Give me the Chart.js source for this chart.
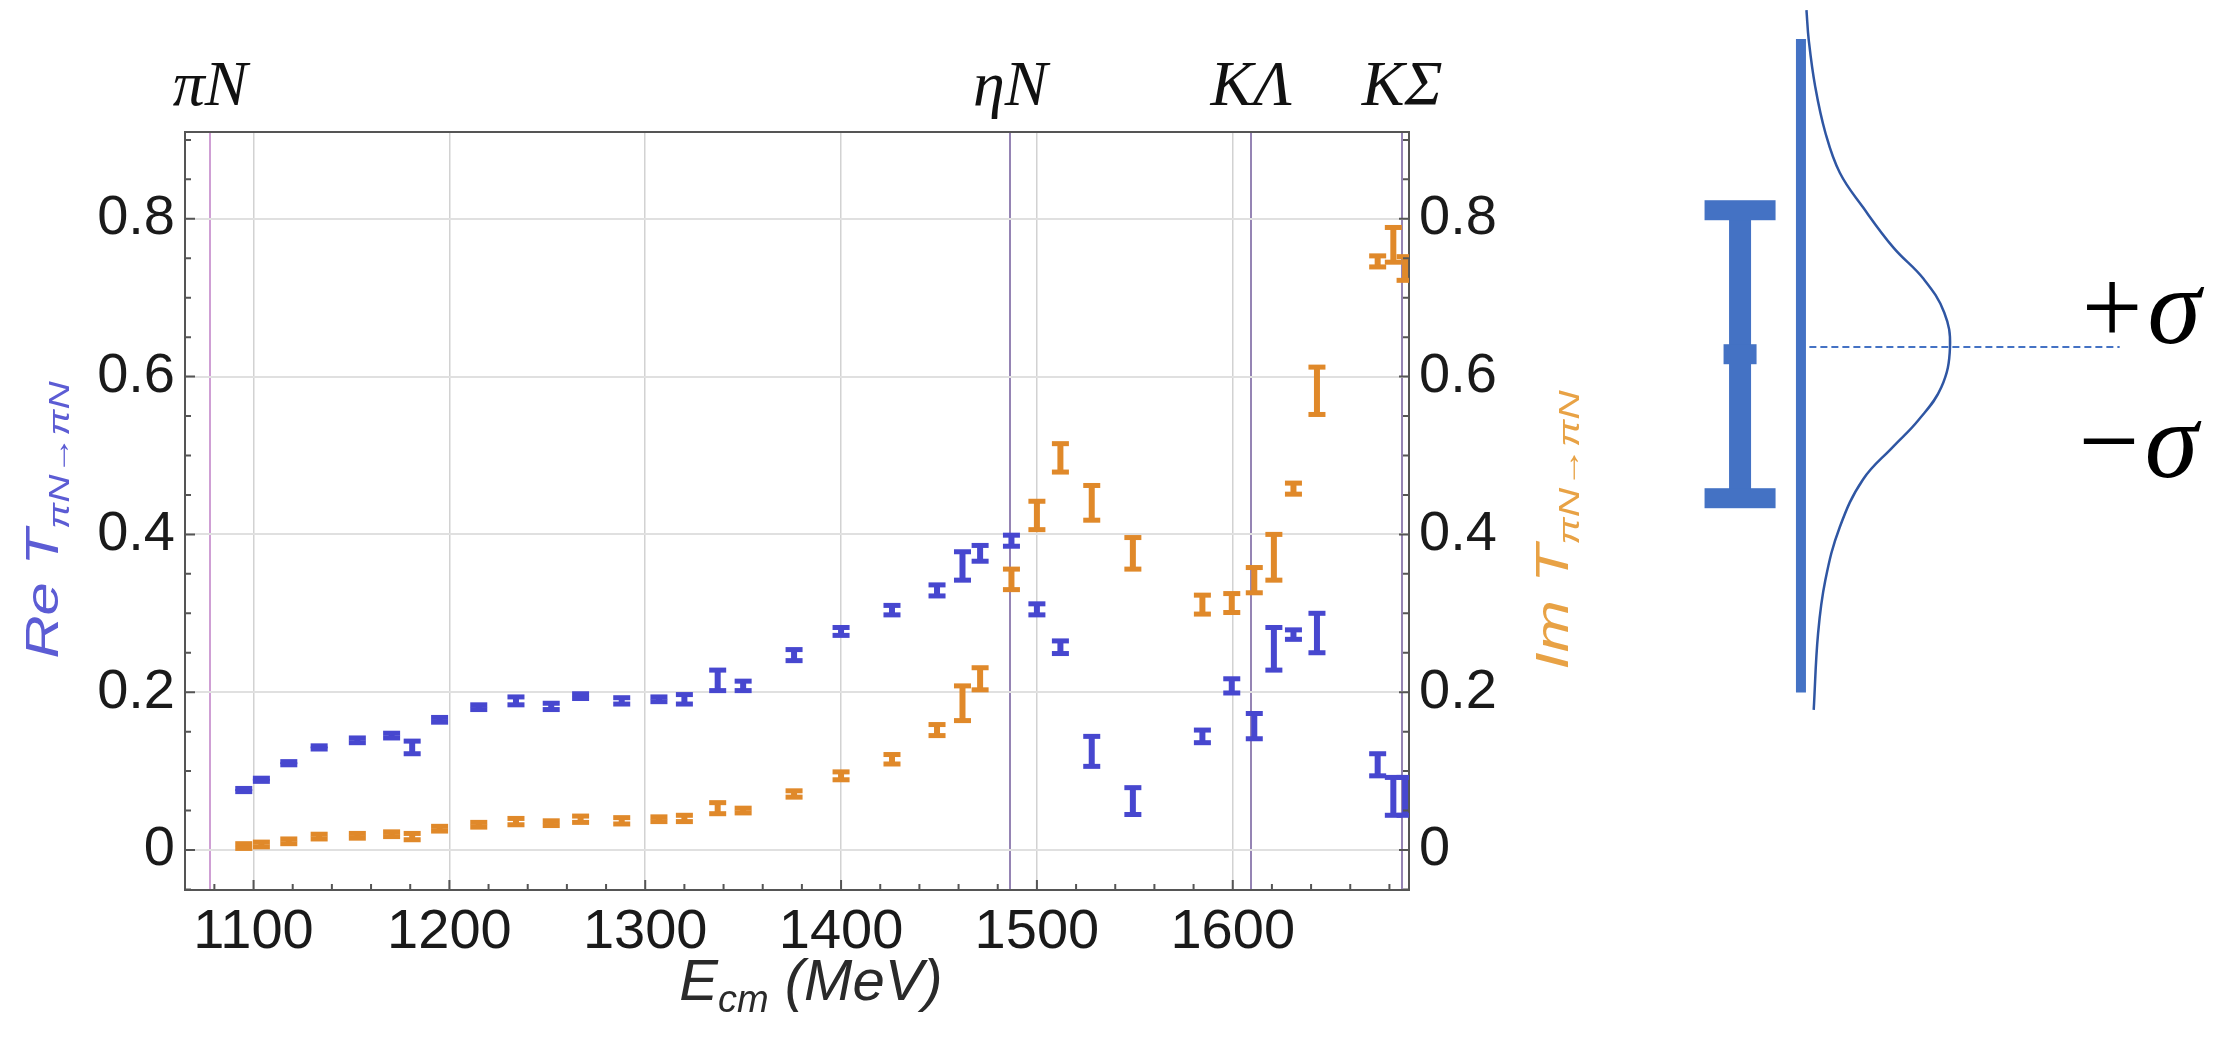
<!DOCTYPE html>
<html>
<head>
<meta charset="utf-8">
<script src="https://cdn.jsdelivr.net/npm/chart.js@4.4.1/dist/chart.umd.min.js"></script>
<style>
  html, body { margin: 0; padding: 0; background: #fff; }
  #wrap { position: relative; width: 2240px; height: 1052px; overflow: hidden; }
  #amp { position: absolute; left: 0; top: 0; }
  #sigma { position: absolute; left: 1620px; top: 0; }
</style>
</head>
<body>
<div id="wrap">
  <canvas id="amp" width="1620" height="1052"></canvas>
  <canvas id="sigma" width="620" height="1052"></canvas>
</div>
<script>
// pi N -> pi N amplitude, centre-of-mass energy in MeV
const energies = [1095, 1104, 1118, 1133.5, 1153, 1170.5, 1181, 1195, 1215, 1234, 1252, 1267, 1288,
  1307, 1320, 1337, 1350, 1376, 1400, 1426, 1449, 1462, 1471, 1487, 1500, 1512, 1528, 1549,
  1584.5, 1599.5, 1611, 1621, 1631, 1643, 1674, 1682, 1688];
const reVals = [0.076, 0.089, 0.110, 0.130, 0.139, 0.145, 0.130, 0.165, 0.181, 0.189, 0.182, 0.195, 0.189,
  0.191, 0.191, 0.215, 0.208, 0.247, 0.277, 0.304, 0.329, 0.360, 0.376, 0.392, 0.305, 0.257, 0.125, 0.062,
  0.144, 0.208, 0.157, 0.255, 0.273, 0.275, 0.108, 0.068, 0.068];
const reErrs = [0.002, 0.002, 0.002, 0.002, 0.003, 0.003, 0.008, 0.003, 0.003, 0.005, 0.004, 0.003, 0.004,
  0.003, 0.006, 0.013, 0.006, 0.007, 0.005, 0.006, 0.007, 0.018, 0.010, 0.007, 0.007, 0.008, 0.019, 0.017,
  0.008, 0.009, 0.016, 0.027, 0.006, 0.025, 0.014, 0.024, 0.024];
const imVals = [0.005, 0.007, 0.011, 0.017, 0.018, 0.020, 0.017, 0.027, 0.032, 0.036, 0.034, 0.039, 0.037,
  0.039, 0.040, 0.053, 0.050, 0.071, 0.094, 0.115, 0.152, 0.186, 0.217, 0.343, 0.424, 0.497, 0.440, 0.376,
  0.311, 0.313, 0.342, 0.371, 0.458, 0.582, 0.746, 0.767, 0.737];
const imErrs = [0.003, 0.003, 0.003, 0.003, 0.003, 0.003, 0.004, 0.003, 0.003, 0.004, 0.003, 0.004, 0.004,
  0.003, 0.004, 0.007, 0.003, 0.004, 0.005, 0.006, 0.007, 0.022, 0.014, 0.013, 0.018, 0.018, 0.022, 0.020,
  0.012, 0.012, 0.016, 0.029, 0.007, 0.030, 0.007, 0.022, 0.015];

const xTicks = [1100, 1200, 1300, 1400, 1500, 1600];
const yTicks = [0, 0.2, 0.4, 0.6, 0.8];
// two-body thresholds
const thresholds = [1077.8, 1486.4, 1609.4, 1686.5];
const thresholdNames = ['πN', 'ηN', 'KΛ', 'KΣ'];

// error-bar sketch: profile height against offset in units of sigma
const profileZ = [2.34, 2.13, 1.81, 1.49, 1.21, 0.97, 0.69, 0.47, 0.24, 0, -0.28, -0.51, -0.69, -0.92, -1.25, -1.62, -1.99, -2.52];
const profileD = [0.01, 0.026, 0.07, 0.14, 0.24, 0.40, 0.61, 0.82, 0.96, 1.0, 0.94, 0.78, 0.61, 0.40, 0.24, 0.14, 0.09, 0.06];
const axisLine = [2.14, -2.40];      // z range of the vertical bar
const meanLine = [0.03, 2.17];       // extent of the dashed mean line
const sketchBar = { z: -0.05, err: 1.0 };
const sigmaLabels = ['+σ', '−σ'];

const BLUE = '#4747cf';
const ORANGE = '#e0892a';
const SKETCH = '#4472c4';

// draws I-shaped error bars for datasets carrying an errorBar style
const errorBars = {
  id: 'errorBars',
  afterDatasetsDraw(chart, args, opts) {
    const ctx = chart.ctx;
    const area = chart.chartArea;
    ctx.save();
    if (opts.clip) {
      ctx.beginPath();
      ctx.rect(area.left, area.top, area.right - area.left, area.bottom - area.top);
      ctx.clip();
    }
    chart.data.datasets.forEach((ds, i) => {
      const eb = ds.errorBar;
      if (!eb) return;
      const meta = chart.getDatasetMeta(i);
      const xs = chart.scales[meta.xAxisID];
      const ys = chart.scales[meta.yAxisID];
      ctx.fillStyle = ds.borderColor;
      ds.data.forEach(p => {
        const x = xs.getPixelForValue(p.x);
        const top = ys.getPixelForValue(p.y + p.err);
        const bot = ys.getPixelForValue(p.y - p.err);
        ctx.fillRect(x - eb.stem / 2, top, eb.stem, bot - top);
        ctx.fillRect(x - eb.cap / 2, top - eb.capH / 2, eb.cap, eb.capH);
        ctx.fillRect(x - eb.cap / 2, bot - eb.capH / 2, eb.cap, eb.capH);
        if (eb.mid) {
          const yc = ys.getPixelForValue(p.y);
          ctx.fillRect(x - eb.mid[0] / 2, yc - eb.mid[1] / 2, eb.mid[0], eb.mid[1]);
        }
      });
    });
    ctx.restore();
  }
};

// inward frame ticks, major and minor
const frameTicks = {
  id: 'frameTicks',
  afterDraw(chart) {
    const { ctx, chartArea: a, scales } = chart;
    ctx.save();
    ctx.strokeStyle = '#555';
    ctx.lineWidth = 2;
    ctx.beginPath();
    for (let k = -1; k <= 18; k++) {
      const v = k * 0.05;
      const y = scales.y.getPixelForValue(v);
      if (y < a.top || y > a.bottom) continue;
      const len = k % 4 === 0 ? 10 : 6;
      ctx.moveTo(a.left, y); ctx.lineTo(a.left + len, y);
      ctx.moveTo(a.right, y); ctx.lineTo(a.right - len, y);
    }
    for (let e = 1080; e <= 1680; e += 20) {
      const x = scales.x.getPixelForValue(e);
      const len = e % 100 === 0 ? 10 : 6;
      ctx.moveTo(x, a.bottom); ctx.lineTo(x, a.bottom - len);
    }
    ctx.stroke();
    ctx.restore();
  }
};

// text made of several runs (main text + subscript), optionally rotated and stretched
function drawRich(ctx, parts, cx, cy, angle, color, stretch) {
  ctx.save();
  ctx.translate(cx, cy);
  ctx.rotate(angle);
  ctx.scale(stretch || 1, 1);
  ctx.fillStyle = color;
  ctx.textBaseline = 'alphabetic';
  let total = 0;
  parts.forEach(p => { ctx.font = p.font; p.w = ctx.measureText(p.text).width; total += p.w; });
  let x = -total / 2;
  parts.forEach(p => { ctx.font = p.font; ctx.fillText(p.text, x, p.dy || 0); x += p.w; });
  ctx.restore();
}

// axis titles with subscripts
const axisTitles = {
  id: 'axisTitles',
  afterDraw(chart) {
    const ctx = chart.ctx;
    const big = 'italic 46px "Liberation Sans"';
    const sub = 'italic 30px "Liberation Sans"';
    drawRich(ctx, [
      { text: 'Re ', font: big }, { text: 'T', font: big }, { text: 'πN→πN', font: sub, dy: 11 }
    ], 58, 520, -Math.PI / 2, '#5c5cd4', 1.3);
    drawRich(ctx, [
      { text: 'Im ', font: big }, { text: 'T', font: big }, { text: 'πN→πN', font: sub, dy: 11 }
    ], 1568, 530, -Math.PI / 2, '#e8a245', 1.36);
    drawRich(ctx, [
      { text: 'E', font: 'italic 58px "Liberation Sans"' },
      { text: 'cm', font: 'italic 38px "Liberation Sans"', dy: 12 },
      { text: ' (MeV)', font: 'italic 58px "Liberation Sans"' }
    ], 811, 1000, 0, '#2a2a2a');
  }
};

const tickFont = { family: 'Liberation Sans', size: 56 };
const yRange = { min: -0.0507, max: 0.910 };
const xRange = { min: 1065, max: 1690 };
const fixSize = (dim, size) => s => { s[dim] = size; };

new Chart(document.getElementById('amp'), {
  type: 'scatter',
  data: {
    datasets: [
      {
        label: 'Re T',
        data: energies.map((e, i) => ({ x: e, y: reVals[i], err: reErrs[i] })),
        borderColor: BLUE, backgroundColor: BLUE, pointRadius: 0,
        xAxisID: 'x', yAxisID: 'y',
        errorBar: { stem: 6, cap: 17, capH: 5 }
      },
      {
        label: 'Im T',
        data: energies.map((e, i) => ({ x: e, y: imVals[i], err: imErrs[i] })),
        borderColor: ORANGE, backgroundColor: ORANGE, pointRadius: 0,
        xAxisID: 'x', yAxisID: 'y2',
        errorBar: { stem: 6, cap: 17, capH: 5 }
      }
    ]
  },
  options: {
    responsive: false,
    animation: false,
    devicePixelRatio: 1,
    layout: { padding: 0 },
    plugins: {
      legend: { display: false },
      tooltip: { enabled: false },
      errorBars: { clip: true }
    },
    scales: {
      x: {
        type: 'linear', position: 'bottom', ...xRange,
        afterBuildTicks: s => { s.ticks = xTicks.map(v => ({ value: v })); },
        afterFit: fixSize('height', 162),
        ticks: { font: tickFont, color: '#1a1a1a', padding: 9, maxRotation: 0, callback: v => String(v) },
        grid: { color: '#d2d2d2', lineWidth: 1.5, drawTicks: false },
        border: { display: true, color: '#555', width: 2 }
      },
      x2: {
        type: 'linear', position: 'top', ...xRange,
        afterBuildTicks: s => { s.ticks = thresholds.map(v => ({ value: v })); },
        afterFit: fixSize('height', 132),
        ticks: {
          font: { family: 'Liberation Serif', size: 64, style: 'italic' },
          color: '#111', padding: 5, maxRotation: 0,
          callback: (v, i) => thresholdNames[i]
        },
        grid: {
          color: c => (c.index === 0 ? '#cf9fd4' : '#9584b4'),
          lineWidth: 2, drawTicks: false, drawOnChartArea: true
        },
        border: { display: true, color: '#555', width: 2 }
      },
      y: {
        type: 'linear', position: 'left', ...yRange,
        afterBuildTicks: s => { s.ticks = yTicks.map(v => ({ value: v })); },
        afterFit: fixSize('width', 185),
        ticks: { font: tickFont, color: '#1a1a1a', padding: 10, callback: v => (v === 0 ? '0' : v.toFixed(1)) },
        grid: { color: '#e0e0e0', lineWidth: 2, drawTicks: false },
        border: { display: true, color: '#555', width: 2 }
      },
      y2: {
        type: 'linear', position: 'right', ...yRange,
        afterBuildTicks: s => { s.ticks = yTicks.map(v => ({ value: v })); },
        afterFit: fixSize('width', 211),
        ticks: { font: tickFont, color: '#1a1a1a', padding: 10, callback: v => (v === 0 ? '0' : v.toFixed(1)) },
        grid: { drawOnChartArea: false, drawTicks: false },
        border: { display: true, color: '#555', width: 2 }
      }
    }
  },
  plugins: [errorBars, frameTicks, axisTitles]
});

// the +sigma / -sigma labels beside the sketch
const sigmaText = {
  id: 'sigmaText',
  afterDraw(chart) {
    const { ctx, scales } = chart;
    ctx.save();
    ctx.fillStyle = '#000';
    ctx.font = 'italic 108px "Liberation Serif"';
    ctx.textBaseline = 'alphabetic';
    ctx.fillText(sigmaLabels[0], scales.x.getPixelForValue(1.86), scales.y.getPixelForValue(0.03));
    ctx.fillText(sigmaLabels[1], scales.x.getPixelForValue(1.84), scales.y.getPixelForValue(-0.90));
    ctx.restore();
  }
};

new Chart(document.getElementById('sigma'), {
  type: 'scatter',
  data: {
    datasets: [
      {
        data: profileZ.map((z, i) => ({ x: profileD[i], y: z })),
        showLine: true, borderColor: '#2f56a3', borderWidth: 2.5, pointRadius: 0, tension: 0.4
      },
      {
        data: axisLine.map(z => ({ x: -0.028, y: z })),
        showLine: true, borderColor: SKETCH, borderWidth: 10, pointRadius: 0, borderCapStyle: 'butt'
      },
      {
        data: meanLine.map(d => ({ x: d, y: 0 })),
        showLine: true, borderColor: SKETCH, borderWidth: 2, borderDash: [7, 4], pointRadius: 0
      },
      {
        data: [{ x: -0.448, y: sketchBar.z, err: sketchBar.err }],
        borderColor: SKETCH, pointRadius: 0,
        errorBar: { stem: 22, cap: 71, capH: 20, mid: [33, 20] }
      }
    ]
  },
  options: {
    responsive: false,
    animation: false,
    devicePixelRatio: 1,
    layout: { padding: 0 },
    plugins: { legend: { display: false }, tooltip: { enabled: false }, errorBars: { clip: false } },
    scales: {
      x: { type: 'linear', display: false, min: -1.276, max: 3.0 },
      y: { type: 'linear', display: false, min: -4.896, max: 2.41 }
    }
  },
  plugins: [errorBars, sigmaText]
});
</script>
</body>
</html>
